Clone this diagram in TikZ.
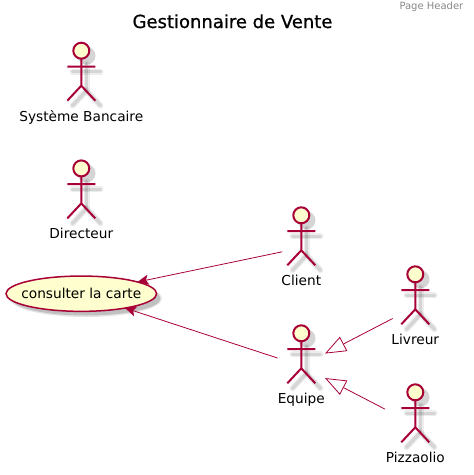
\documentclass[tikz,border=0pt]{standalone}
\usepackage{fontspec}
\setmainfont{DejaVu Sans}
\newfontfamily\titlefont[FakeBold=0.8]{DejaVu Sans}
\usetikzlibrary{arrows.meta,shapes.geometric,calc}
\definecolor{umlred}{HTML}{A80036}
\definecolor{umlfill}{HTML}{FEFECE}
\definecolor{hdrgray}{HTML}{888888}
\tikzset{
  actorbox/.style={inner sep=0pt,outer sep=0pt,minimum height=83pt,rectangle},
  actorlabel/.style={anchor=base,inner sep=0pt,font=\fontsize{13.7pt}{16pt}\selectfont},
  usecase/.style={ellipse,draw=umlred,fill=umlfill,line width=1.5pt,inner sep=0pt,outer sep=0pt,
    minimum width=150.6pt,minimum height=35.3pt,font=\fontsize{13.7pt}{16pt}\selectfont},
  assoc/.style={draw=umlred,line width=.8pt,-{Stealth[length=11pt,width=10pt,inset=2.5pt]}},
  genlink/.style={draw=umlred,line width=.8pt,-{Triangle[open,length=21pt,width=16pt,fill=white]}},
  pics/stickman/.style={code={
    \begin{scope}[shift={(5.2,5)},line cap=round]
      \foreach \w/\o in {6/.07,3.5/.10}{
        \draw[black,line width=\w pt,opacity=\o] (-14,16) -- (14,16);
        \draw[black,line width=\w pt,opacity=\o] (0,8) -- (0,35);
        \draw[black,line width=\w pt,opacity=\o] (-14,50) -- (0,35) -- (14,50);
        \fill[black,opacity=\o] (0,0) circle (9);
      }
    \end{scope}
    \draw[umlred,line width=2pt,fill=umlfill] (0,0) circle (8);
    \draw[umlred,line width=2pt] (-14,15.8) -- (14,15.8) (0,8) -- (0,35) (-14,50) -- (0,35) -- (14,50);
  }}
}
\newcommand{\actorfig}[5]{%
  \pic at (#3,#4) {stickman};
  \node[actorbox,minimum width=#5pt] (#1) at (#3,#4+32.5) {};
  \node[actorlabel] (#1label) at ($(#3,#4+70.3)$) {#2};
}
\begin{document}
\begin{tikzpicture}[x=1pt,y=-1pt]
\useasboundingbox (0,0) rectangle (474,475);
\node[anchor=base,inner sep=0pt,font=\titlefont\fontsize{18pt}{20pt}\selectfont] (title) at (232.5,28) {Gestionnaire de Vente};
\node[anchor=base east,inner sep=0pt,text=hdrgray,font=\fontsize{10pt}{12pt}\selectfont] (header) at (463.5,9) {Page Header};

\actorfig{banque}{Système Bancaire}{81.3}{50.7}{123}
\actorfig{directeur}{Directeur}{81.3}{168.4}{64}
\actorfig{client}{Client}{301.3}{215.3}{38}
\actorfig{equipe}{Equipe}{301.3}{333.3}{47.4}
\actorfig{livreur}{Livreur}{415.3}{274.3}{45.2}
\actorfig{pizzaolio}{Pizzaolio}{415.3}{392.3}{60.6}

\foreach \w/\o in {0/.10,-1.5/.16}{
  \fill[black,opacity=\o] (86,298.5) ellipse ({76+\w} and {18.5+\w});
}
\node[usecase] (carte) at (81.3,293.7) {\makebox[0pt]{consulter la carte}};

\draw[assoc] (client) -- (carte);
\draw[assoc] (equipe) -- (carte);
\draw[genlink] (livreur) -- (equipe);
\draw[genlink] (pizzaolio) -- (equipe);
\end{tikzpicture}
\end{document}
